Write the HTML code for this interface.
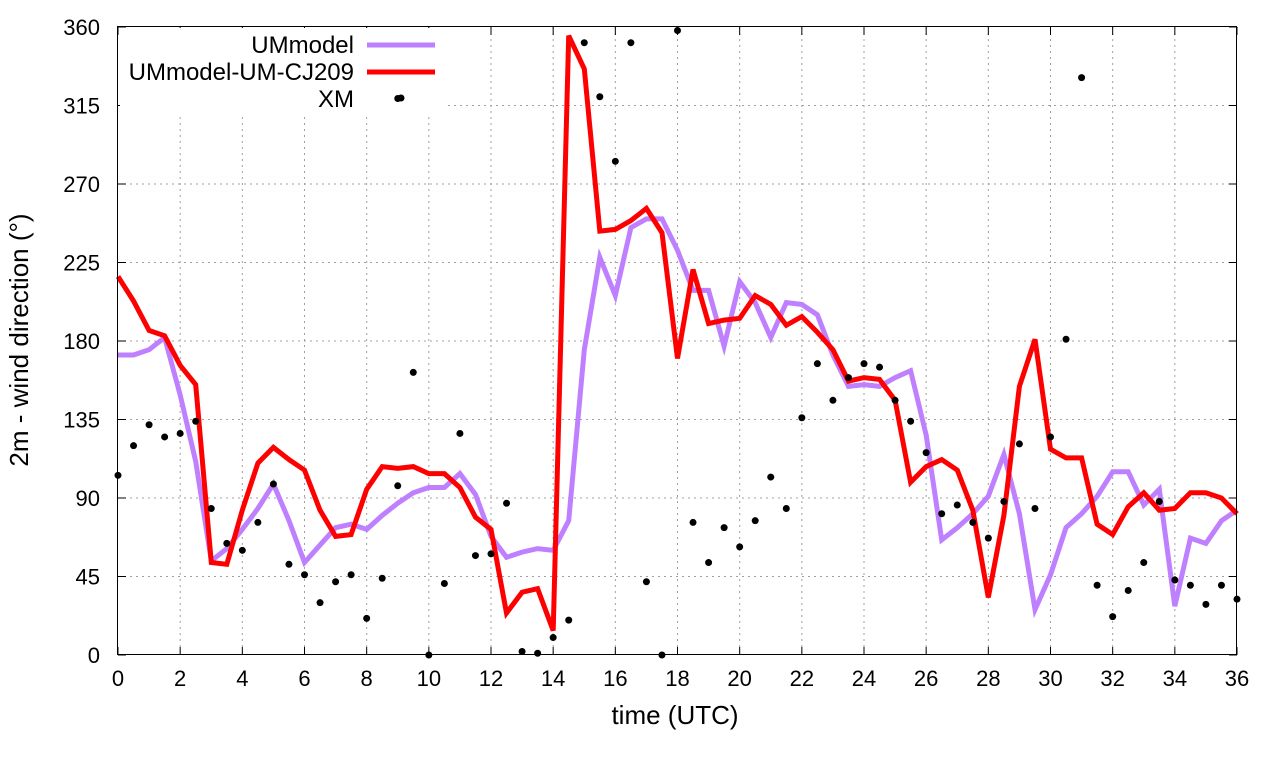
<!DOCTYPE html>
<html><head><meta charset="utf-8"><style>
body{margin:0;background:#fff}
svg text{font-family:"Liberation Sans",sans-serif;fill:#000}
</style></head><body>
<svg id="c" width="1280" height="760">
<rect x="0" y="0" width="1280" height="760" fill="#fff"/>
<g id="grid"></g>
<g id="ticks"></g>
<rect x="120" y="28" width="328" height="86" fill="#fff"/>
<g id="series"></g>
<rect x="117.5" y="26.5" width="1119" height="628" fill="none" stroke="#000" stroke-width="1"/>
<text x="28" y="340" font-size="26" text-anchor="middle" transform="rotate(-90 28 340)" dy="0">2m - wind direction (°)</text>
<text x="675" y="724" font-size="26" text-anchor="middle">time (UTC)</text>
<g>
<text x="354" y="53" font-size="24" text-anchor="end">UMmodel</text>
<line x1="367" y1="45" x2="435" y2="45" stroke="#bf80ff" stroke-width="5"/>
<text x="354" y="80" font-size="24" text-anchor="end">UMmodel-UM-CJ209</text>
<line x1="367" y1="72" x2="435" y2="72" stroke="#ff0000" stroke-width="5"/>
<text x="354" y="107" font-size="24" text-anchor="end">XM</text>
<circle cx="401" cy="98" r="3.5" fill="#000"/>
</g>
</svg>
<script>
const xTicks=[0,2,4,6,8,10,12,14,16,18,20,22,24,26,28,30,32,34,36];
const yTicks=[0,45,90,135,180,225,270,315,360];
const times=[0,0.5,1,1.5,2,2.5,3,3.5,4,4.5,5,5.5,6,6.5,7,7.5,8,8.5,9,9.5,10,10.5,11,11.5,12,12.5,13,13.5,14,14.5,15,15.5,16,16.5,17,17.5,18,18.5,19,19.5,20,20.5,21,21.5,22,22.5,23,23.5,24,24.5,25,25.5,26,26.5,27,27.5,28,28.5,29,29.5,30,30.5,31,31.5,32,32.5,33,33.5,34,34.5,35,35.5,36];
const umModel=[172,172,175,182,149,111,54,61,72,84,98,77,53,63,73,75,72,80,87,93,96,96,104,92,68,56,59,61,60,77,175,228,206,245,250,250,232,209,209,177,214,202,182,202,201,195,172,154,155,154,159,163,126,66,73,81,91,115,81,26,46,73,81,91,105,105,86,95,28,67,64,77,83];
const umCJ209=[217,203,186,183,166,155,53,52,83,110,119,112,106,83,68,69,95,108,107,108,104,104,96,79,72,24,36,38,14,355,336,243,244,249,256,242,170,221,190,192,193,206,201,189,194,185,175,157,159,158,146,99,108,112,106,83,33,80,154,181,118,113,113,75,69,85,93,83,84,93,93,90,81];
const xmTimes=[0,0.5,1,1.5,2,2.5,3,3.5,4,4.5,5,5.5,6,6.5,7,7.5,8,8.5,9,9,9.5,10,10.5,11,11.5,12,12.5,13,13.5,14,14.5,15,15.5,16,16.5,17,17.5,18,18.5,19,19.5,20,20.5,21,21.5,22,22.5,23,23.5,24,24.5,25,25.5,26,26.5,27,27.5,28,28.5,29,29.5,30,30.5,31,31.5,32,32.5,33,33.5,34,34.5,35,35.5,36];
const xmValues=[103,120,132,125,127,134,84,64,60,76,98,52,46,30,42,46,21,44,97,319,162,0,41,127,57,58,87,2,1,10,20,351,320,283,351,42,0,358,76,53,73,62,77,102,84,136,167,146,159,167,165,146,134,116,81,86,76,67,88,121,84,125,181,331,40,22,37,53,88,43,40,29,40,32];
const NS='http://www.w3.org/2000/svg';
const X0=118,X1=1237,Y0=655,Y1=27;
function xs(t){return X0+(t/36)*(X1-X0);}
function ys(v){return Y0-(v/360)*(Y0-Y1);}
function mk(tag,attrs,parent){const e=document.createElementNS(NS,tag);for(const k in attrs)e.setAttribute(k,attrs[k]);parent.appendChild(e);return e;}
const grid=document.getElementById('grid'),ticks=document.getElementById('ticks'),series=document.getElementById('series');
xTicks.forEach(t=>{const x=xs(t);
 if(t>0&&t<36){const g=mk('line',{x1:x,y1:Y1,x2:x,y2:Y0,stroke:'#a0a0a0','stroke-dasharray':'2,4','stroke-width':1},grid);
 
 }
 const tk=mk('line',{x1:x,y1:Y0,x2:x,y2:Y0-8,stroke:'#000'},ticks);
 
 
 const tk2=mk('line',{x1:x,y1:Y1,x2:x,y2:Y1+8,stroke:'#000'},ticks);
 
 
 const lb=mk('text',{x:x,y:686,'font-size':22,'text-anchor':'middle'},ticks);lb.textContent=t;
 
 });
yTicks.forEach(v=>{const y=ys(v);
 if(v>0&&v<360){const g=mk('line',{x1:X0,y1:y,x2:X1,y2:y,stroke:'#a0a0a0','stroke-dasharray':'2,4','stroke-width':1},grid);
 
 }
 const tk=mk('line',{x1:X0,y1:y,x2:X0+8,y2:y,stroke:'#000'},ticks);
 
 
 const tk2=mk('line',{x1:X1,y1:y,x2:X1-8,y2:y,stroke:'#000'},ticks);
 
 
 const lb=mk('text',{x:100,y:y+8,'font-size':22,'text-anchor':'end'},ticks);lb.textContent=v;
 
 });
function line(vals,color,name){const p=vals.map((v,i)=>(i?'L':'M')+xs(times[i]).toFixed(1)+','+ys(v).toFixed(1)).join('');
 const e=mk('path',{d:p,fill:'none',stroke:color,'stroke-width':5,'stroke-linejoin':'miter'},series);
 
 }
line(umModel,'#bf80ff','ummodel-line');
line(umCJ209,'#ff0000','ummodel-um-cj209-line');
xmValues.forEach((v,i)=>{const c=mk('circle',{cx:xs(xmTimes[i]),cy:ys(v),r:3.5,fill:'#000'},series);
 
 });
</script>
</body></html>
